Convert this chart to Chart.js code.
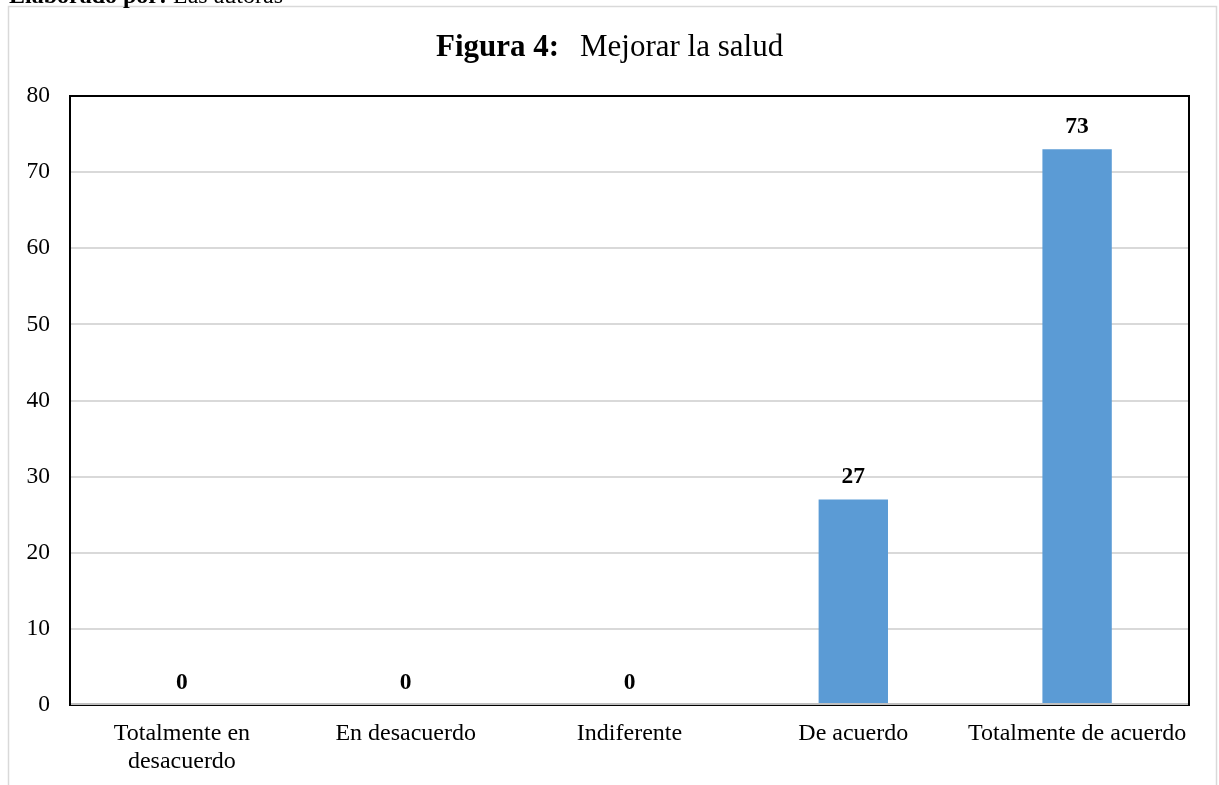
<!DOCTYPE html>
<html>
<head>
<meta charset="utf-8">
<title>Figura 4: Mejorar la salud</title>
<script src="https://cdn.jsdelivr.net/npm/chart.js@4.4.0/dist/chart.umd.min.js"></script>
<style>
  html, body { margin: 0; padding: 0; background: #fff; overflow: hidden; }
  #wrap { position: relative; width: 1219px; height: 785px; }
</style>
</head>
<body>
<div id="wrap"><canvas id="saludChart" width="1219" height="785"></canvas></div>
<script>
// Survey answers: "Mejorar la salud"
const categories = [
    ['Totalmente en', 'desacuerdo'],
    'En desacuerdo',
    'Indiferente',
    'De acuerdo',
    'Totalmente de acuerdo'
];
const values = [0, 0, 0, 27, 73];
const yTicks = [0, 10, 20, 30, 40, 50, 60, 70, 80];

const serif = '"Liberation Serif", "Times New Roman", serif';

// page caption at the very top, frame around the figure and the title
const decorPlugin = {
    id: 'decor',
    beforeDraw(chart) {
        const ctx = chart.ctx;
        ctx.save();
        ctx.fillStyle = '#fff';
        ctx.fillRect(0, 0, chart.width, chart.height);

        ctx.strokeStyle = '#d9d9d9';
        ctx.lineWidth = 1.5;
        ctx.strokeRect(8.5, 6.5, 1208, 800);

        ctx.fillStyle = '#000';
        ctx.textBaseline = 'alphabetic';
        ctx.textAlign = 'left';
        ctx.font = 'bold 24px ' + serif;
        ctx.fillText('Elaborado por:', 9, 3);
        const w0 = ctx.measureText('Elaborado por: ').width;
        ctx.font = '24px ' + serif;
        ctx.fillText('Las autoras', 9 + w0, 3);

        ctx.font = 'bold 31px ' + serif;
        ctx.fillText('Figura 4:', 436, 56);
        ctx.font = '31px ' + serif;
        ctx.fillText('Mejorar la salud', 580, 56);
        ctx.restore();
    },
    afterDatasetsDraw(chart) {
        const ctx = chart.ctx;
        const a = chart.chartArea;
        ctx.save();
        // plot frame
        ctx.strokeStyle = '#000';
        ctx.lineWidth = 2;
        ctx.strokeRect(a.left, a.top, a.right - a.left, a.bottom - a.top);
        // category axis line
        ctx.strokeStyle = '#bfbfbf';
        ctx.beginPath();
        ctx.moveTo(a.left + 1, a.bottom - 1);
        ctx.lineTo(a.right - 1, a.bottom - 1);
        ctx.stroke();

        // value labels above the bars
        ctx.fillStyle = '#000';
        ctx.font = 'bold 23.5px ' + serif;
        ctx.textAlign = 'center';
        ctx.textBaseline = 'alphabetic';
        chart.getDatasetMeta(0).data.forEach((bar, i) => {
            ctx.fillText(String(values[i]), bar.x, bar.y - 16);
        });
        ctx.restore();
    }
};

var ctx = document.getElementById('saludChart').getContext('2d');
var saludChart = new Chart(ctx, {
    type: 'bar',
    data: {
        labels: categories,
        datasets: [{
            data: values,
            backgroundColor: '#5b9bd5',
            borderWidth: 0,
            categoryPercentage: 1,
            barPercentage: 0.31
        }]
    },
    options: {
        responsive: false,
        animation: false,
        layout: { padding: { left: 0, top: 96, right: 30, bottom: 0 } },
        plugins: {
            legend: { display: false },
            title: { display: false },
            tooltip: { enabled: false }
        },
        scales: {
            x: {
                grid: { display: false, drawTicks: false },
                border: { display: false },
                ticks: {
                    color: '#000',
                    padding: 15,
                    maxRotation: 0,
                    autoSkip: false,
                    font: { family: serif, size: 24, lineHeight: 1.15 }
                },
                afterFit(scale) { scale.height = 80; }
            },
            y: {
                min: 0,
                max: 80,
                afterBuildTicks(scale) { scale.ticks = yTicks.map(v => ({ value: v })); },
                grid: { color: '#d9d9d9', lineWidth: 2, drawTicks: false },
                border: { display: false },
                ticks: {
                    color: '#000',
                    padding: 20,
                    font: { family: serif, size: 23.5 }
                },
                afterFit(scale) { scale.width = 70; }
            }
        }
    },
    plugins: [decorPlugin]
});
</script>
</body>
</html>
